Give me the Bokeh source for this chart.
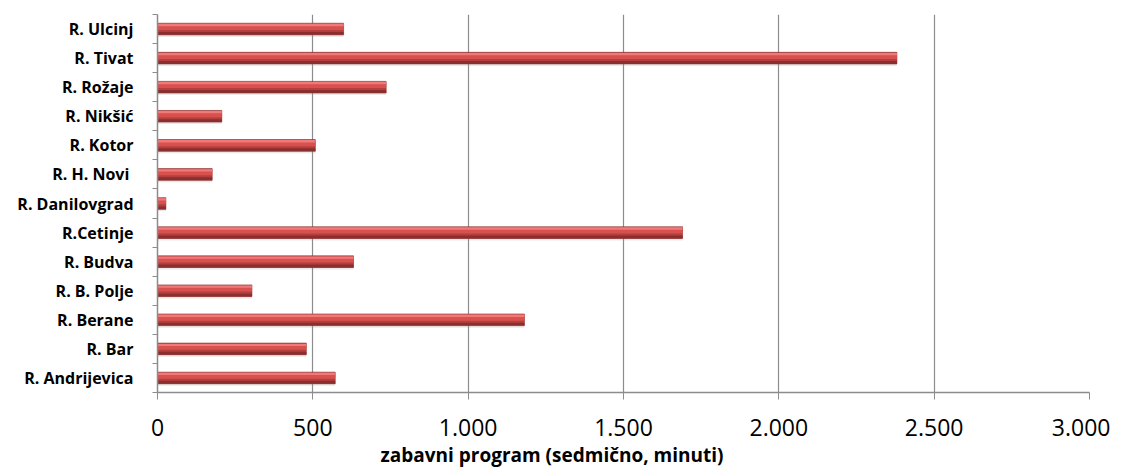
from bokeh.plotting import figure
from bokeh.models import ColumnDataSource, FixedTicker, Range1d, Title
from bokeh.transform import dodge
from bokeh.embed import file_html
from bokeh.resources import INLINE

# ---- data (bottom to top) ----
categories = ["R. Andrijevica", "R. Bar", "R. Berane", "R. B. Polje", "R. Budva",
              "R.Cetinje", "R. Danilovgrad", "R. H. Novi ", "R. Kotor", "R. Nikšić",
              "R. Rožaje", "R. Tivat", "R. Ulcinj"]
minutes = [572, 479, 1181, 304, 631, 1690, 27, 176, 508, 207, 736, 2380, 599]
x_ticks = [0, 500, 1000, 1500, 2000, 2500, 3000]
x_tick_labels = ["0", "500", "1.000", "1.500", "2.000", "2.500", "3.000"]
x_title = "zabavni program (sedmično, minuti)"

pos = list(range(len(categories)))
src = ColumnDataSource(dict(y=pos, v=minutes, cat=categories))

p = figure(width=1110, height=469, output_backend="svg", toolbar_location=None,
           x_range=Range1d(0, 3000), y_range=Range1d(-0.5, len(categories) - 0.5),
           min_border_left=157, min_border_right=21, min_border_top=14, min_border_bottom=77)
p.outline_line_color = None
p.background_fill_color = "white"

# shadow
p.hbar(y=dodge("y", -0.06), right="v", left=0, height=0.42, source=src,
       fill_color="#9a9a9a", fill_alpha=0.22, line_color=None)
# main body
p.hbar(y="y", right="v", left=0, height=0.40, source=src,
       fill_color="#B3403E", line_color="#8E2E2C", line_width=0.6)
# mid lighter band
p.hbar(y=dodge("y", 0.07), right="v", left=0, height=0.20, source=src,
       fill_color="#D9514F", line_color=None)
# top highlight
p.hbar(y=dodge("y", 0.14), right="v", left=0, height=0.08, source=src,
       fill_color="#F07A78", line_color=None)
# bottom dark edge
p.hbar(y=dodge("y", -0.15), right="v", left=0, height=0.10, source=src,
       fill_color="#8A2F2D", line_color=None)

# x axis
p.xaxis.ticker = FixedTicker(ticks=x_ticks)
p.xaxis.major_label_overrides = {t: l for t, l in zip(x_ticks, x_tick_labels)}
p.xaxis.major_label_text_font = "Open Sans"
p.xaxis.major_label_text_font_size = "23px"
p.xaxis.major_label_text_color = "#000000"
p.xaxis.major_label_standoff = 19
p.xaxis.major_tick_out = 7
p.xaxis.major_tick_in = 0
p.xaxis.minor_tick_line_color = None
p.xaxis.axis_line_color = "#8c8c8c"
p.xaxis.major_tick_line_color = "#8c8c8c"
p.xaxis.axis_line_width = 1.5

p.add_layout(Title(text=x_title, align="left", offset=223, standoff=3,
                   text_font="Open Sans", text_font_style="bold",
                   text_font_size="19px", text_color="#000000"), "below")

# y axis
p.yaxis.ticker = FixedTicker(ticks=pos, minor_ticks=[i - 0.5 for i in range(len(categories) + 1)])
p.yaxis.major_label_overrides = {i: c for i, c in zip(pos, categories)}
p.yaxis.major_label_text_font = "Open Sans"
p.yaxis.major_label_text_font_style = "bold"
p.yaxis.major_label_text_font_size = "16px"
p.yaxis.major_label_text_color = "#000000"
p.yaxis.major_label_standoff = 19
p.yaxis.major_tick_line_color = None
p.yaxis.major_tick_out = 0
p.yaxis.major_tick_in = 0
p.yaxis.minor_tick_out = 5
p.yaxis.minor_tick_in = 0
p.yaxis.minor_tick_line_color = "#8c8c8c"
p.yaxis.axis_line_color = "#8c8c8c"
p.yaxis.axis_line_width = 1.5

# grid
p.xgrid.ticker = FixedTicker(ticks=x_ticks)
p.xgrid.grid_line_color = "#8c8c8c"
p.xgrid.grid_line_width = 1.2
p.ygrid.grid_line_color = None

open("out.html", "w").write(file_html(p, INLINE))
